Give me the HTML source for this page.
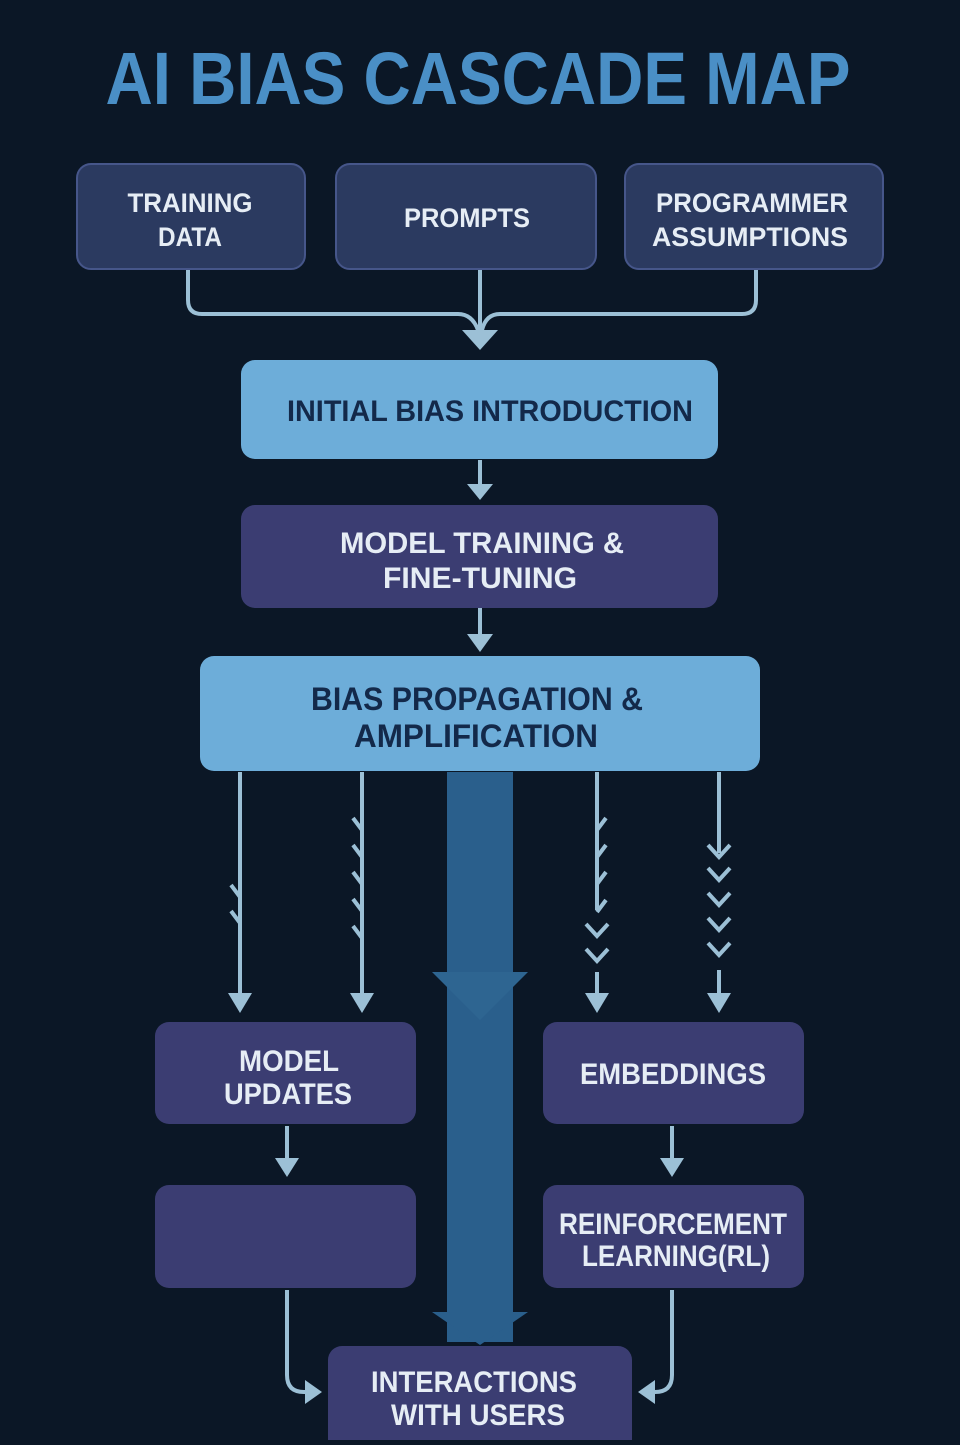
<!DOCTYPE html>
<html><head><meta charset="utf-8"><style>
body{margin:0;width:960px;height:1440px;background:#0b1726;overflow:hidden;font-family:"Liberation Sans",sans-serif}
</style></head><body>
<svg width="960" height="1440" viewBox="0 0 960 1440" xmlns="http://www.w3.org/2000/svg">
<rect width="960" height="1440" fill="#0b1726"/>
<text x="478" y="104" text-anchor="middle" font-family="Liberation Sans" font-weight="bold" font-size="74" fill="#4a8fc6" textLength="745" lengthAdjust="spacingAndGlyphs">AI BIAS CASCADE MAP</text>
<g fill="#2b3a60" stroke="#46568a" stroke-width="2">
<rect x="77" y="164" width="228" height="105" rx="14"/>
<rect x="336" y="164" width="260" height="105" rx="14"/>
<rect x="625" y="164" width="258" height="105" rx="14"/>
</g>
<g font-family="Liberation Sans" font-weight="bold" fill="#e6edf5" text-anchor="middle" font-size="27" lengthAdjust="spacingAndGlyphs">
<text x="190" y="212" textLength="125" lengthAdjust="spacingAndGlyphs">TRAINING</text><text x="190" y="246" textLength="64" lengthAdjust="spacingAndGlyphs">DATA</text>
<text x="467" y="227" textLength="126" lengthAdjust="spacingAndGlyphs">PROMPTS</text>
<text x="752" y="212" textLength="192" lengthAdjust="spacingAndGlyphs">PROGRAMMER</text><text x="750" y="246" textLength="196" lengthAdjust="spacingAndGlyphs">ASSUMPTIONS</text>
</g>
<g fill="none" stroke="#9cc0d6" stroke-width="4">
<path d="M188 270 V300 Q188 314 202 314 H458 Q472 314 478 330"/>
<path d="M756 270 V300 Q756 314 742 314 H500 Q486 314 482 330"/>
<path d="M480 270 V332"/>
<path d="M480 460 V485"/><path d="M480 608 V636"/>
<path d="M240 772 V995"/><path d="M362 772 V995"/>
<path d="M597 772 V910"/><path d="M719 772 V853"/>
<path d="M597 972 V995"/><path d="M719 970 V995"/>
<path d="M231 885 L240 897 M231 911 L240 923"/>
<path d="M353 818 L362 830 M353 845 L362 857 M353 872 L362 884 M353 899 L362 911 M353 926 L362 938"/>
<path d="M606 818 L597 830 M606 845 L597 857 M606 872 L597 884 M606 900 L597 912"/>
<path d="M586 924 L597 936 L608 924 M586 949 L597 961 L608 949"/>
<path d="M708 845 L719 857 L730 845 M708 868 L719 880 L730 868 M708 893 L719 905 L730 893 M708 918 L719 930 L730 918 M708 943 L719 955 L730 943"/>
<path d="M287 1126 V1160"/><path d="M672 1126 V1160"/>
<path d="M287 1290 V1375 Q287 1392 304 1392 H312"/>
<path d="M672 1290 V1375 Q672 1392 655 1392 H648"/>
</g>
<g fill="#9cc0d6">
<path d="M462 330 L498 330 L480 350Z"/>
<path d="M467 484 L493 484 L480 500Z"/>
<path d="M467 634 L493 634 L480 652Z"/>
<path d="M228 993 L252 993 L240 1013Z"/><path d="M350 993 L374 993 L362 1013Z"/>
<path d="M585 993 L609 993 L597 1013Z"/><path d="M707 993 L731 993 L719 1013Z"/>
<path d="M275 1158 L299 1158 L287 1177Z"/><path d="M660 1158 L684 1158 L672 1177Z"/>
<path d="M305 1380 L322 1392 L305 1404Z"/><path d="M655 1380 L638 1392 L655 1404Z"/>
</g>
<rect x="241" y="360" width="477" height="99" rx="14" fill="#6dadd9"/>
<rect x="241" y="505" width="477" height="103" rx="14" fill="#3b3d72"/>
<rect x="200" y="656" width="560" height="115" rx="14" fill="#6dadd9"/>
<g fill="#2a5f8c">
<rect x="447" y="772" width="66" height="570"/>
<path d="M432 972 H528 L480 1020Z" fill="#2e6591"/>
<path d="M432 1312 H528 L480 1345Z"/>
</g>
<g fill="#3b3d72">
<rect x="155" y="1022" width="261" height="102" rx="14"/>
<rect x="543" y="1022" width="261" height="102" rx="14"/>
<rect x="155" y="1185" width="261" height="103" rx="14"/>
<rect x="543" y="1185" width="261" height="103" rx="14"/>
<rect x="328" y="1346" width="304" height="110" rx="14"/>
</g>
<g font-family="Liberation Sans" font-weight="bold" text-anchor="middle" font-size="30">
<text x="490" y="421" fill="#13294a" textLength="406" lengthAdjust="spacingAndGlyphs">INITIAL BIAS INTRODUCTION</text>
<text x="482" y="553" fill="#e6edf5" textLength="284" lengthAdjust="spacingAndGlyphs">MODEL TRAINING &amp;</text>
<text x="480" y="588" fill="#e6edf5" textLength="194" lengthAdjust="spacingAndGlyphs">FINE-TUNING</text>
<text x="477" y="710" fill="#13294a" font-size="32" textLength="332" lengthAdjust="spacingAndGlyphs">BIAS PROPAGATION &amp;</text>
<text x="476" y="747" fill="#13294a" font-size="32" textLength="244" lengthAdjust="spacingAndGlyphs">AMPLIFICATION</text>
<g fill="#e6edf5">
<text x="289" y="1071" textLength="100" lengthAdjust="spacingAndGlyphs">MODEL</text><text x="288" y="1104" textLength="128" lengthAdjust="spacingAndGlyphs">UPDATES</text>
<text x="673" y="1084" textLength="186" lengthAdjust="spacingAndGlyphs">EMBEDDINGS</text>
<text x="673" y="1234" textLength="228" lengthAdjust="spacingAndGlyphs">REINFORCEMENT</text><text x="676" y="1266" textLength="188" lengthAdjust="spacingAndGlyphs">LEARNING(RL)</text>
<text x="474" y="1392" textLength="206" lengthAdjust="spacingAndGlyphs">INTERACTIONS</text><text x="478" y="1425" textLength="174" lengthAdjust="spacingAndGlyphs">WITH USERS</text>
</g>
</g>
</svg>
</body></html>
